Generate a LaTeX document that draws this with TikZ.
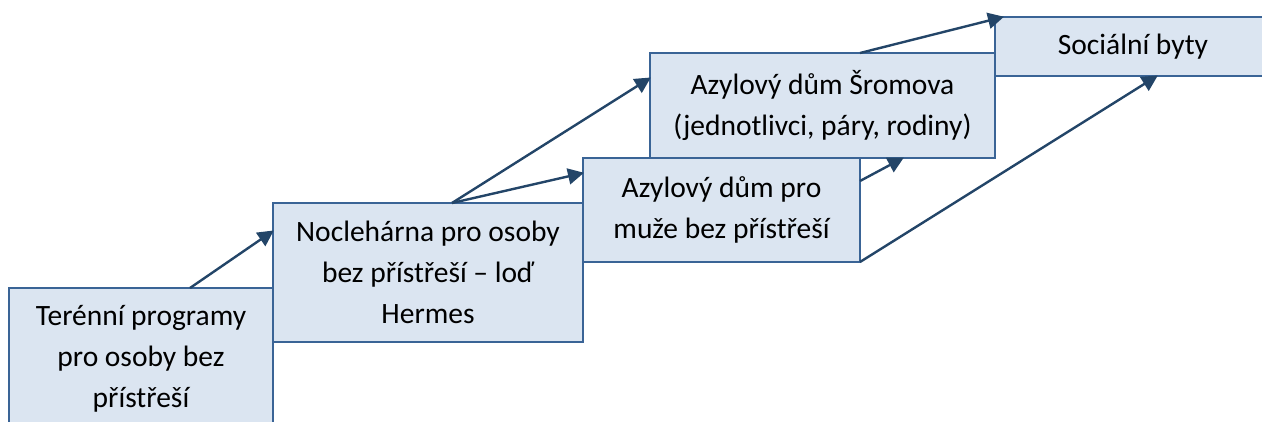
\documentclass[tikz,border=0pt]{standalone}
\usepackage{fontspec}
\setmainfont{Carlito}
\usetikzlibrary{arrows.meta}
\definecolor{boxfill}{HTML}{DBE5F1}
\definecolor{boxline}{HTML}{3A6496}
\definecolor{arrowline}{HTML}{234568}
\tikzset{
  x=1pt,y=-1pt,
  stagebox/.style={draw=boxline,fill=boxfill,line width=2pt,inner sep=0pt,outer sep=0pt,align=center,
    font=\fontsize{29.5}{41}\selectfont,text=black,anchor=north west},
  link/.style={draw=arrowline,line width=2.4pt,-{Triangle[length=16pt,width=16pt]},shorten >=-1pt}
}
\begin{document}
\begin{tikzpicture}
\useasboundingbox (0,0) rectangle (1262,421);
\clip (0,0) rectangle (1262,421);
\node[stagebox,minimum width=264pt,minimum height=142pt] (a) at (9,288) {Terénní programy\\pro osoby bez\\přístřeší};
\node[stagebox,minimum width=310pt,minimum height=139pt] (b) at (273,203) {Noclehárna pro osoby\\bez přístřeší – loď\\Hermes};
\node[stagebox,minimum width=345pt,minimum height=105pt] (d) at (650,53) {Azylový dům Šromova\\(jednotlivci, páry, rodiny)};
\node[stagebox,minimum width=277pt,minimum height=104pt] (c) at (583,158) {Azylový dům pro\\muže bez přístřeší};
\node[stagebox,minimum width=276pt,minimum height=59pt] (e) at (995,17) {Sociální byty};
\coordinate (a1) at ([xshift=181pt]a.north west);
\coordinate (b1) at ([xshift=179pt]b.north west);
\coordinate (c1) at ([yshift=-23pt]c.north east);
\coordinate (c2) at (c.south east);
\coordinate (c3) at ([xshift=43pt]c.north east);
\coordinate (d1) at ([xshift=210pt]d.north west);
\coordinate (e1) at ([xshift=8pt]e.north west);
\coordinate (e2) at ([xshift=162pt]e.south west);
\draw[link] (a1) -- ([yshift=-28pt]b.north west);
\draw[link] (b1) -- ([yshift=-25pt]d.north west);
\draw[link] (b1) -- ([yshift=-15pt]c.north west);
\draw[link] (c1) -- (c3);
\draw[link] (c2) -- (e2);
\draw[link] (d1) -- (e1);
\end{tikzpicture}
\end{document}
